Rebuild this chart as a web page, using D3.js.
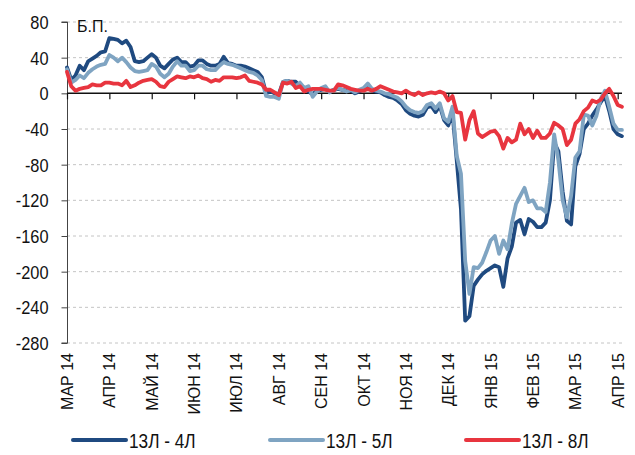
<!DOCTYPE html>
<html><head><meta charset="utf-8">
<script src="https://cdn.jsdelivr.net/npm/d3@7"></script>
<style>
html,body{margin:0;padding:0;background:#fff;}
svg{display:block;}
</style></head>
<body>
<svg id="chart" width="635" height="455"></svg>
<script>
const months = ["МАР 14","АПР 14","МАЙ 14","ИЮН 14","ИЮЛ 14","АВГ 14","СЕН 14","ОКТ 14","НОЯ 14","ДЕК 14","ЯНВ 15","ФЕВ 15","МАР 15","АПР 15"];
const samplesPerMonth = 10;
const yTicks = [80,40,0,-40,-80,-120,-160,-200,-240,-280];
const unitLabel = "Б.П.";
const seriesNames = ["13Л - 4Л","13Л - 5Л","13Л - 8Л"];

const s4 = [29,15,20,31,26,36,39,42,46,47,
62,61,60,56,59,52,36,35,36,40,
44,40,31,28,33,38,40,35,35,30,
31,37,37,33,31,31,33,41,34,33,
31,31,30,28,26,24,18,0,2,0,
-1,13,14,13,13,8,6,2,-1,3,
4,5,2,4,5,4,3,3,0,2,
5,8,3,2,1,-2,-4,-5,-8,-12,
-19,-23,-25,-26,-24,-16,-14,-21,-14,-30,
-36,-22,-75,-130,-255,-250,-216,-209,-203,-199,
-196,-193,-195,-217,-185,-172,-145,-142,-158,-141,
-144,-150,-150,-145,-120,-55,-65,-110,-143,-147,
-82,-68,-40,-34,-25,-18,-10,-3,-20,-40,
-46,-48];

const s5 = [27,12,15,20,17,23,27,30,32,33,
43,40,36,40,35,29,25,24,25,26,
33,30,22,18,22,30,36,31,31,25,
26,31,31,27,26,26,31,35,33,32,
30,28,26,24,23,20,15,-3,-4,-4,
-6,13,14,11,8,12,6,8,-4,2,
6,8,1,4,6,4,2,4,1,4,
6,11,5,3,2,0,-1,-3,-5,-9,
-15,-19,-21,-22,-20,-13,-11,-17,-11,-28,
-32,-15,-70,-90,-188,-225,-195,-196,-190,-178,
-165,-160,-180,-165,-175,-146,-124,-115,-106,-122,
-120,-129,-129,-133,-100,-46,-75,-120,-139,-115,
-72,-65,-24,-25,-36,-25,-6,3,-15,-34,
-41,-41];

const s8 = [24,8,3,5,6,7,10,9,9,12,
12,11,11,9,14,7,9,12,14,15,
16,13,8,7,13,16,19,18,17,19,
18,20,17,16,13,15,14,18,18,18,
17,18,20,14,13,12,10,4,4,1,
-2,12,11,13,6,8,2,4,5,5,
5,4,3,3,10,9,7,5,4,3,
3,5,3,5,8,6,4,2,1,0,
3,0,-2,1,-2,0,1,0,2,0,
-8,-3,-21,-22,-52,-30,-20,-45,-49,-46,
-43,-42,-48,-62,-50,-55,-52,-34,-46,-40,
-50,-42,-50,-50,-45,-33,-36,-40,-58,-52,
-34,-29,-20,-16,-8,-10,-7,0,5,-3,
-13,-15];

const colors = ["#1f4a80","#7fa4c2","#e8353f"];
const FONT = "'Liberation Sans',Arial,sans-serif";

function condense(sel, f){
  sel.each(function(){
    const L = this.getComputedTextLength();
    d3.select(this).attr("textLength", L*f).attr("lengthAdjust","spacingAndGlyphs");
  });
}

const svg = d3.select("#chart");
const x = d3.scaleLinear().domain([0,(months.length-1)*samplesPerMonth]).range([67,617.7]);
const y = d3.scaleLinear().domain([-280,80]).range([343,22]);
const xEnd = 622;

// gridlines
svg.append("g").selectAll("line").data(yTicks.filter(d=>d!==0)).join("line")
  .attr("x1",67).attr("x2",xEnd).attr("y1",d=>y(d)).attr("y2",d=>y(d))
  .attr("stroke","#c4c4c4").attr("stroke-width",1).attr("stroke-dasharray","3,3");

// y axis
const yAxis = svg.append("g").attr("transform","translate(67.5,0)")
  .call(d3.axisLeft(y).tickValues(yTicks).tickSize(6).tickPadding(13).tickFormat(d=>String(d)));
yAxis.select(".domain").attr("stroke","#444").attr("d",`M-6,${y(80)}H0V${y(-280)}H-6`);
yAxis.selectAll(".tick line").attr("stroke","#444");
yAxis.selectAll("text").attr("font-family",FONT).attr("font-size",19).attr("fill","#111")
  .attr("dy","0.34em");
condense(yAxis.selectAll("text"), 0.86);

// zero axis with month ticks
const xAxis = svg.append("g").attr("transform",`translate(0,${y(0)})`)
  .call(d3.axisBottom(x).tickValues(months.map((m,i)=>i*samplesPerMonth)).tickSize(6).tickFormat(""));
xAxis.select(".domain").attr("d",`M67,0H${xEnd}`).attr("stroke","#111").attr("stroke-width",1.5);
xAxis.selectAll(".tick line").attr("stroke","#111").attr("stroke-width",1.2);

// month labels at bottom
const ml = svg.append("g").selectAll("text").data(months).join("text")
  .attr("transform",(d,i)=>`translate(${x(i*samplesPerMonth)+6},353) rotate(-90)`)
  .attr("text-anchor","end")
  .attr("font-family",FONT).attr("font-size",16).attr("fill","#111")
  .text(d=>d);

// unit label
svg.append("text").attr("x",77).attr("y",32).attr("font-family",FONT)
  .attr("font-size",16).attr("fill","#111").text(unitLabel);

// lines
const line = d3.line().x((d,i)=>x(i)).y(d=>y(d)).curve(d3.curveLinear);
[s4,s5,s8].forEach((s,k)=>{
  svg.append("path").datum(s).attr("d",line).attr("fill","none")
    .attr("stroke",colors[k]).attr("stroke-width",3.8).attr("stroke-linejoin","round").attr("stroke-linecap","round");
});

// legend
const legX = [73,270,466];
const lg = svg.append("g");
seriesNames.forEach((n,k)=>{
  lg.append("line").attr("x1",legX[k]).attr("x2",legX[k]+53).attr("y1",440).attr("y2",440)
    .attr("stroke",colors[k]).attr("stroke-width",4).attr("stroke-linecap","round");
  const t = lg.append("text").attr("x",legX[k]+56).attr("y",447.5).attr("font-family",FONT)
    .attr("font-size",20).attr("fill","#111").text(n);
  condense(t, 0.86);
});
</script>
</body></html>
